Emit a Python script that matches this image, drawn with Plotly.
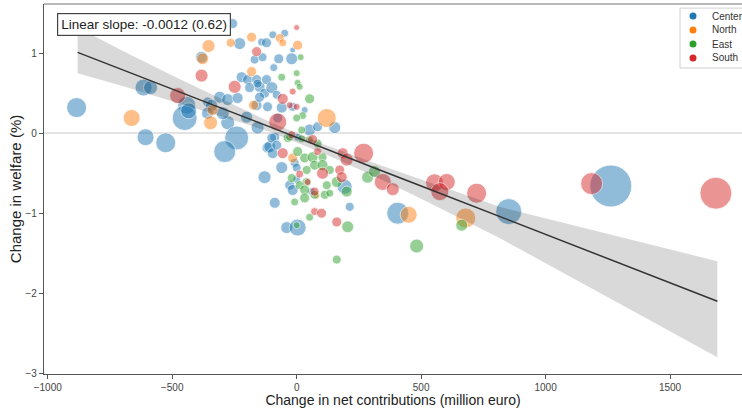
import plotly.graph_objects as go

# ---------------- data ----------------
center_x = [-884, -615, -587, -607, -526, -442, -450, -434, -358, -309, -277, -241, -289, -257, -229,
            -382, -221, -197, -161, -149, -189, -342, -277, -237, -129, -161, -358, -297, -201, -141,
            -169, -137, -157, -129, -117, -96, -48, -16, -121, -72, -20, -92, -121, -100, -80,
            -117, -60, -16, 32, -157, -149, 153, 52, 84, -88, -108, -96, -100, -80, 4,
            -8, -60, 0, 0, 193, -28, 60, -16, -88, 213, -40, 4, 406, 852, 1262, -76]
center_y = [0.32, 0.57, 0.57, -0.05, -0.12, 0.35, 0.19, 0.28, 0.39, 0.45, 0.13, -0.06, -0.23, 1.37, 1.12,
            0.95, 0.70, 0.67, 0.67, 0.58, 0.57, 0.35, 0.42, 0.44, 0.50, 0.35, 0.25, 0.25, 0.20, 1.14,
            0.92, 0.95, 0.07, -0.55, -0.18, 1.23, 1.25, 1.04, 1.13, 0.93, 0.93, 0.82, 0.67, 0.57, 0.48,
            0.33, 0.32, 0.33, 0.29, 0.62, 0.45, 0.07, 0.04, 0.08, -0.05, -0.17, -0.25, -0.06, -0.15, -0.05,
            -0.37, -0.43, -0.43, -0.58, -0.67, -0.65, -0.73, -0.71, -0.87, -0.92, -1.18, -1.18, -1.00, -0.98, -0.66, 0.19]
center_w = [400, 289, 196, 289, 400, 324, 625, 256, 100, 144, 196, 576, 484, 100, 144,
            144, 121, 100, 100, 121, 100, 144, 144, 121, 100, 121, 144, 169, 144, 64,
            81, 81, 169, 169, 121, 64, 64, 36, 100, 100, 144, 64, 100, 144, 81,
            100, 121, 81, 49, 81, 100, 144, 144, 100, 100, 144, 121, 100, 100, 64,
            81, 144, 81, 64, 225, 100, 64, 121, 121, 81, 144, 289, 484, 676, 1764, 100]

north_x = [-663, -354, -265, -378, -181, -181, -173, -338, -346, -68, -56, 4, 121, -16, 450, 679, 80]
north_y = [0.19, 1.09, 1.13, 0.93, 1.20, 0.77, 0.35, 0.29, 0.13, 1.19, 1.13, 1.10, 0.19, -0.31, -1.02, -1.06, -0.78]
north_w = [289, 169, 81, 144, 100, 100, 100, 121, 196, 81, 64, 100, 361, 100, 289, 400, 49]

east_x = [16, 0, -60, 4, 12, 52, 24, 0, 20, -36, 20, 52, 84, 4, 32, 64, 104, 72, 104, 40, 133,
          -20, 161, 40, 12, 201, 121, 32, 72, 113, 133, 32, -8, 52, 0, 205, 161, 285, 313, 482, 663, -28]
east_y = [0.95, 0.75, 0.70, 0.63, 0.58, 0.43, 0.22, 0.19, 0.04, -0.06, -0.07, -0.08, -0.13, -0.23, -0.31,
          -0.30, -0.30, -0.40, -0.40, -0.46, -0.46, -0.56, -0.61, -0.61, -0.65, -0.73, -0.65, -0.71, -0.77,
          -0.77, -0.75, -0.81, -0.86, -1.05, -1.15, -1.17, -1.58, -0.55, -0.48, -1.41, -1.15, -0.05]
east_w = [49, 49, 64, 49, 49, 100, 64, 64, 64, 81, 64, 64, 81, 100, 100, 121, 81, 100, 121, 81, 81,
          81, 121, 81, 81, 121, 81, 100, 81, 81, 64, 100, 64, 64, 49, 144, 81, 144, 144, 196, 144, 64]

south_x = [-478, -382, -249, -161, 0, -16, -56, 0, -28, -76, -20, -56, 64, 84, 185, 201, 269,
           104, 173, 181, 12, 44, 72, 72, 100, 161, 346, 386, 554, 603, 575, 723, 1185, 1684]
south_y = [0.47, 0.72, 0.58, 1.02, 1.32, 0.52, 0.43, 0.33, 0.35, 0.14, -0.02, -0.25, -0.08, -0.23, -0.25,
           -0.33, -0.25, -0.50, -0.46, -0.55, -0.51, -0.61, -0.73, -0.98, -1.00, -1.11, -0.61, -0.70,
           -0.62, -0.61, -0.73, -0.75, -0.63, -0.75]
south_w = [256, 169, 169, 100, 36, 49, 121, 49, 49, 324, 64, 121, 100, 64, 121, 169, 400,
           144, 100, 121, 64, 49, 81, 64, 100, 100, 289, 169, 324, 289, 324, 400, 484, 1024]

# regression fit and confidence band
fit_x = [-880, -700, -500, -300, -100, 100, 300, 500, 815, 1200, 1690]
fit_y = [1.01, 0.79, 0.55, 0.31, 0.07, -0.18, -0.42, -0.66, -1.04, -1.51, -2.10]
ci_upper = [1.32, 1.03, 0.72, 0.42, 0.13, -0.13, -0.36, -0.58, -0.92, -1.22, -1.60]
ci_lower = [0.75, 0.59, 0.40, 0.21, 0.01, -0.24, -0.52, -0.82, -1.31, -1.97, -2.80]

slope_text = "Linear slope: -0.0012 (0.62)"
x_ticks = [-1000, -500, 0, 500, 1000, 1500]
y_ticks = [-3, -2, -1, 0, 1]

groups = [
    ("Center", center_x, center_y, center_w, "31,119,180"),
    ("North", north_x, north_y, north_w, "255,127,14"),
    ("East", east_x, east_y, east_w, "44,160,44"),
    ("South", south_x, south_y, south_w, "214,39,40"),
]

fig = go.Figure()
for name, xs, ys, ws, rgb in groups:
    fig.add_trace(go.Scatter(
        x=xs, y=ys, mode="markers", name=name, showlegend=False,
        marker=dict(size=ws, sizemode="area", sizeref=2, sizemin=2,
                    color=f"rgba({rgb},0.7)",
                    line=dict(color="rgba(255,255,255,0.8)", width=1)),
        hoverinfo="skip",
    ))

# confidence band (on top, translucent)
fig.add_trace(go.Scatter(x=fit_x, y=ci_upper, mode="lines", line=dict(width=0),
                         showlegend=False, hoverinfo="skip"))
fig.add_trace(go.Scatter(x=fit_x, y=ci_lower, mode="lines", line=dict(width=0),
                         fill="tonexty", fillcolor="rgba(0,0,0,0.15)",
                         showlegend=False, hoverinfo="skip"))
fig.add_trace(go.Scatter(x=fit_x, y=fit_y, mode="lines",
                         line=dict(color="#333333", width=1.5),
                         showlegend=False, hoverinfo="skip"))

font_family = "Liberation Sans, Arial, sans-serif"
fig.update_layout(
    width=742, height=408,
    margin=dict(l=44, r=0, t=4, b=34, autoexpand=False),
    plot_bgcolor="white", paper_bgcolor="white",
    font=dict(family=font_family, color="#333333"),
    showlegend=False,
    xaxis=dict(range=[-1015, 1789], tickvals=x_ticks, showgrid=False, zeroline=False,
               automargin=False,
               showline=True, linecolor="#555555", linewidth=1.3,
               ticks="outside", ticklen=4, tickcolor="#555555",
               tickfont=dict(size=10, color="#444444"),
               title=dict(text="Change in net contributions (million euro)",
                          font=dict(size=14, color="#222222"), standoff=5)),
    yaxis=dict(range=[-3.01, 1.615], tickvals=y_ticks, showgrid=False,
               automargin=False,
               zeroline=True, zerolinecolor="#e3e3e3", zerolinewidth=2,
               showline=True, linecolor="#555555", linewidth=1.3,
               ticks="outside", ticklen=4, tickcolor="#555555",
               tickfont=dict(size=10, color="#444444"),
               title=dict(text="Change in welfare (%)",
                          font=dict(size=15, color="#222222"), standoff=0)),
)

# top frame line
fig.add_shape(type="line", xref="paper", yref="paper", x0=0, x1=1, y0=1, y1=1,
              line=dict(color="#a0a0a0", width=1.5))

# slope annotation box
fig.add_annotation(text=slope_text, xref="paper", yref="paper", x=0.018, y=0.976,
                   xanchor="left", yanchor="top", showarrow=False,
                   font=dict(size=13.5, color="#222222", family=font_family),
                   bgcolor="white", bordercolor="#444444", borderwidth=1.2, borderpad=3)

# legend (drawn in paper coordinates)
fig.add_shape(type="rect", xref="paper", yref="paper", x0=0.9112, x1=1.05, y0=0.827, y1=0.989,
              line=dict(color="#d0d0d0", width=1), fillcolor="rgba(255,255,255,0.9)", layer="above")
legend_rows = [16, 30, 44, 58]
for (name, _, _, _, rgb), py in zip(groups, legend_rows):
    yc = (374 - py) / 370
    r_y = 3.5 / 370
    fig.add_shape(type="circle", xref="paper", yref="paper",
                  x0=(689.5 - 44) / 698, x1=(696.5 - 44) / 698, y0=yc - r_y, y1=yc + r_y,
                  line=dict(width=0), fillcolor=f"rgb({rgb})", layer="above")
    fig.add_annotation(text=name, xref="paper", yref="paper", x=(710 - 44) / 698, y=yc,
                       xanchor="left", yanchor="middle", showarrow=False,
                       font=dict(size=10, color="#333333", family=font_family))

fig.write_html("out.html", config={"displayModeBar": False},
               post_script="document.body.style.margin='0';")
